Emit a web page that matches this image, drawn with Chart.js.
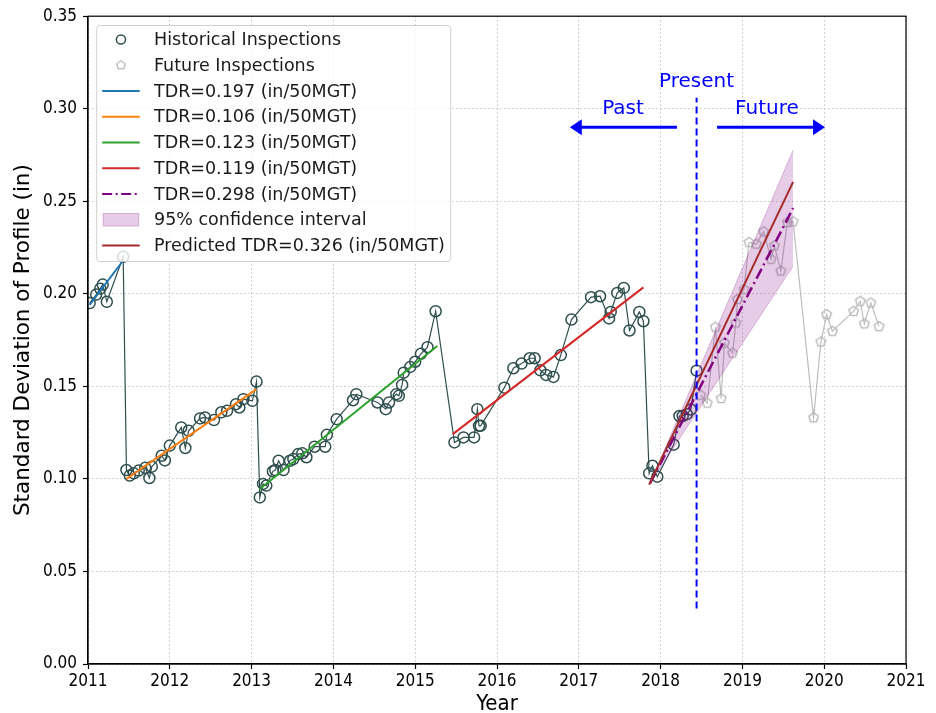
<!DOCTYPE html>
<html>
<head>
<meta charset="utf-8">
<script src="https://cdn.jsdelivr.net/npm/chart.js@4.4.1/dist/chart.umd.min.js"></script>
<style>
  body { margin: 0; background: #fff; }
  #wrap { width: 936px; height: 713px; }
</style>
</head>
<body>
<div id="wrap"><canvas id="chart" width="936" height="713"></canvas></div>
<script>
// historical inspections (year, std dev of profile in inches)
const histYears = [
  2011.02, 2011.10, 2011.15, 2011.18, 2011.23, 2011.43,
  2011.47, 2011.51, 2011.56, 2011.62, 2011.70, 2011.75, 2011.78, 2011.90, 2011.94,
  2012.00, 2012.14, 2012.19, 2012.23, 2012.37, 2012.43, 2012.54, 2012.63, 2012.70,
  2012.81, 2012.85, 2012.90, 2013.01, 2013.06,
  2013.10, 2013.14, 2013.18, 2013.26, 2013.29, 2013.33, 2013.39, 2013.47, 2013.51,
  2013.57, 2013.62, 2013.67, 2013.77, 2013.90, 2013.92, 2014.04, 2014.24, 2014.28,
  2014.54, 2014.64, 2014.68, 2014.77, 2014.80, 2014.84, 2014.86, 2014.94, 2015.00,
  2015.07, 2015.15, 2015.25,
  2015.48, 2015.59, 2015.72, 2015.76, 2015.78, 2015.80, 2016.09, 2016.20, 2016.30,
  2016.40, 2016.46, 2016.53, 2016.60, 2016.69, 2016.78, 2016.91, 2017.15, 2017.26,
  2017.37, 2017.39, 2017.47, 2017.55, 2017.62, 2017.74, 2017.79,
  2017.86, 2017.90, 2017.96, 2018.16, 2018.23, 2018.27, 2018.32, 2018.37, 2018.44
];
const histValues = [
  0.195, 0.1996, 0.2028, 0.205, 0.1957, 0.220,
  0.1048, 0.1018, 0.103, 0.1045, 0.106, 0.1005, 0.1066, 0.1125, 0.110,
  0.118, 0.1278, 0.1167, 0.126, 0.1327, 0.1332, 0.1318, 0.136, 0.1368,
  0.1404, 0.1386, 0.1431, 0.1422, 0.1526,
  0.090, 0.0973, 0.0964, 0.1041, 0.1048, 0.1098, 0.1048, 0.1098, 0.1107,
  0.1134, 0.1138, 0.1117, 0.1174, 0.1174, 0.1238, 0.1323, 0.1425, 0.1458,
  0.1413, 0.1377, 0.1413, 0.1458, 0.1449, 0.1508, 0.1574, 0.1605, 0.1633,
  0.1676, 0.1712, 0.1906,
  0.1197, 0.1224, 0.1224, 0.1377, 0.1287, 0.1287, 0.1493, 0.1598, 0.1623,
  0.1652, 0.1652, 0.1587, 0.1562, 0.1551, 0.1669, 0.1861, 0.1982, 0.1987,
  0.1867, 0.1902, 0.2005, 0.2032, 0.1802, 0.1902, 0.1852,
  0.103, 0.1071, 0.1012, 0.1185, 0.134, 0.134, 0.135, 0.1375, 0.1585
];

// future inspections
const futYears = [
  2018.49, 2018.57, 2018.67, 2018.74, 2018.78, 2018.88, 2018.92, 2018.94, 2019.02,
  2019.08, 2019.17, 2019.26, 2019.35, 2019.39, 2019.47, 2019.55, 2019.62,
  2019.87, 2019.96, 2020.03, 2020.10, 2020.36, 2020.44, 2020.49, 2020.57, 2020.67
];
const futValues = [
  0.1453, 0.141, 0.182, 0.1435, 0.1734, 0.168, 0.1843, 0.197, 0.2024,
  0.2278, 0.2269, 0.2336, 0.2187, 0.226, 0.2124, 0.2386, 0.239,
  0.1331, 0.1741, 0.1888, 0.1798, 0.1906, 0.196, 0.1838, 0.1951, 0.1824
];

// fitted degradation lines per maintenance cycle
const fitLabels = ['TDR=0.197 (in/50MGT)', 'TDR=0.106 (in/50MGT)', 'TDR=0.123 (in/50MGT)', 'TDR=0.119 (in/50MGT)'];
const fitStartX = [2011.02, 2011.47, 2013.10, 2015.46];
const fitEndX = [2011.43, 2013.06, 2015.27, 2017.79];
const fitStartY = [0.194, 0.100, 0.0946, 0.1242];
const fitEndY = [0.218, 0.1485, 0.1718, 0.2035];

// current-cycle fit, prediction and confidence band
const cycleLabel = 'TDR=0.298 (in/50MGT)';
const cycleX = [2017.87, 2019.62];
const cycleY = [0.0975, 0.2463];
const predLabel = 'Predicted TDR=0.326 (in/50MGT)';
const predX = [2017.86, 2019.62];
const predY = [0.0969, 0.2605];
const ciLabel = '95% confidence interval';
const ciX = [2017.87, 2019.62];
const ciLow = [0.0975, 0.215];
const ciHigh = [0.0975, 0.2776];

// present marker and annotations
const presentX = [2018.44, 2018.44];
const presentY = [0.030, 0.306];
const arrowFrom = [2018.20, 2018.69];
const arrowTo = [2016.89, 2020.01];
const arrowY = 0.290;
const noteText = ['Past', 'Present', 'Future'];
const noteX = [2017.54, 2018.44, 2019.30];
const noteY = [0.2969, 0.3118, 0.2969];

const xTicks = [2011, 2012, 2013, 2014, 2015, 2016, 2017, 2018, 2019, 2020, 2021];
const yTicks = [0, 0.05, 0.10, 0.15, 0.20, 0.25, 0.30, 0.35];

const histColor = '#2f4f4f';
const futColor = '#bdbdbd';
const fitColors = ['#1f77b4', '#ff7f0e', '#2ca02c', '#d62728'];
const cycleColor = '#800080';
const predColor = '#a52a2a';
const tickFont = "'DejaVu Sans Condensed', 'DejaVu Sans', sans-serif";
const textFont = "'DejaVu Sans', sans-serif";

const pts = (xs, ys) => xs.map((x, i) => ({ x: x, y: ys[i] }));

function makePentagon(r, color, lw) {
  const c = document.createElement('canvas');
  const s = Math.ceil(2 * r + lw * 2 + 2);
  c.width = s; c.height = s;
  const g = c.getContext('2d');
  g.beginPath();
  for (let i = 0; i < 5; i++) {
    const a = -Math.PI / 2 + i * 2 * Math.PI / 5;
    const px = s / 2 + r * Math.cos(a), py = s / 2 + r * Math.sin(a);
    if (i === 0) g.moveTo(px, py); else g.lineTo(px, py);
  }
  g.closePath();
  g.strokeStyle = color;
  g.lineWidth = lw;
  g.stroke();
  return c;
}
const pentagon = makePentagon(5, '#b5b5b5', 1.3);

const datasets = [
  {
    label: 'present', data: pts(presentX, presentY), showLine: true,
    borderColor: '#0000ff', borderWidth: 2, borderDash: [7, 4], pointRadius: 0, order: 1
  },
  {
    label: predLabel, data: pts(predX, predY), showLine: true,
    borderColor: predColor, borderWidth: 2, pointRadius: 0, order: 2
  },
  {
    label: cycleLabel, data: pts(cycleX, cycleY), showLine: true,
    borderColor: cycleColor, borderWidth: 2.5, borderDash: [11, 4, 2, 4], pointRadius: 0, order: 3
  },
  {
    label: 'ci low', data: pts(ciX, ciLow), showLine: true,
    borderColor: 'rgba(128,0,128,0.25)', borderWidth: 1, pointRadius: 0, order: 5
  },
  {
    label: ciLabel, data: pts(ciX, ciHigh), showLine: true, fill: '-1',
    backgroundColor: 'rgba(128,0,128,0.2)',
    borderColor: 'rgba(128,0,128,0.25)', borderWidth: 1, pointRadius: 0, order: 4
  }
];
fitLabels.forEach((lab, i) => {
  datasets.push({
    label: lab, data: [{ x: fitStartX[i], y: fitStartY[i] }, { x: fitEndX[i], y: fitEndY[i] }],
    showLine: true, borderColor: fitColors[i], borderWidth: 2, pointRadius: 0, order: 6
  });
});
datasets.push({
  label: 'Future Inspections', data: pts(futYears, futValues), showLine: true,
  borderColor: futColor, borderWidth: 1.2, pointStyle: pentagon, pointRadius: 5, order: 7
});
datasets.push({
  label: 'Historical Inspections', data: pts(histYears, histValues), showLine: true,
  borderColor: histColor, borderWidth: 1.2, pointStyle: 'circle', pointRadius: 5.5,
  pointBorderColor: histColor, pointBackgroundColor: 'rgba(0,0,0,0)', pointBorderWidth: 1.5, order: 8
});

const legendRows = [
  { label: 'Historical Inspections', kind: 'circle', color: histColor },
  { label: 'Future Inspections', kind: 'pentagon', color: futColor },
  { label: fitLabels[0], kind: 'line', color: fitColors[0] },
  { label: fitLabels[1], kind: 'line', color: fitColors[1] },
  { label: fitLabels[2], kind: 'line', color: fitColors[2] },
  { label: fitLabels[3], kind: 'line', color: fitColors[3] },
  { label: cycleLabel, kind: 'dashdot', color: cycleColor },
  { label: ciLabel, kind: 'patch', color: 'rgba(128,0,128,0.2)' },
  { label: predLabel, kind: 'line', color: predColor }
];

const overlay = {
  id: 'overlay',
  afterDatasetsDraw(chart) {
    const { ctx, scales: { x, y } } = chart;
    ctx.save();
    ctx.strokeStyle = '#0000ff';
    ctx.fillStyle = '#0000ff';
    ctx.lineWidth = 3;
    arrowFrom.forEach((x0, i) => {
      const p0 = x.getPixelForValue(x0), p1 = x.getPixelForValue(arrowTo[i]);
      const py = y.getPixelForValue(arrowY);
      const dir = Math.sign(p1 - p0);
      ctx.beginPath();
      ctx.moveTo(p0, py);
      ctx.lineTo(p1 - dir * 10, py);
      ctx.stroke();
      ctx.beginPath();
      ctx.moveTo(p1, py);
      ctx.lineTo(p1 - dir * 12, py - 8);
      ctx.lineTo(p1 - dir * 12, py + 8);
      ctx.closePath();
      ctx.fill();
    });
    ctx.font = '20px ' + textFont;
    ctx.textAlign = 'center';
    ctx.textBaseline = 'alphabetic';
    noteText.forEach((t, i) => {
      ctx.fillText(t, x.getPixelForValue(noteX[i]), y.getPixelForValue(noteY[i]));
    });
    ctx.restore();
  },
  afterDraw(chart) {
    const { ctx, chartArea: a } = chart;
    ctx.save();
    ctx.strokeStyle = '#000';
    ctx.lineWidth = 1.2;
    ctx.strokeRect(a.left, a.top, a.right - a.left, a.bottom - a.top);

    // legend box
    const lx = a.left + 8.7, ly = a.top + 9.3, lw = 354, lh = 236;
    ctx.beginPath();
    ctx.roundRect(lx, ly, lw, lh, 3);
    ctx.fillStyle = 'rgba(255,255,255,0.8)';
    ctx.fill();
    ctx.strokeStyle = 'rgba(204,204,204,0.9)';
    ctx.lineWidth = 1;
    ctx.stroke();

    ctx.font = '17.5px ' + textFont;
    ctx.textAlign = 'left';
    ctx.textBaseline = 'middle';
    legendRows.forEach((row, i) => {
      const cy = ly + 14 + i * 25.75;
      const x0 = lx + 5.5, x1 = lx + 43, xm = (x0 + x1) / 2;
      ctx.save();
      if (row.kind === 'circle') {
        ctx.beginPath();
        ctx.arc(xm, cy, 4.6, 0, Math.PI * 2);
        ctx.strokeStyle = row.color;
        ctx.lineWidth = 1.5;
        ctx.stroke();
      } else if (row.kind === 'pentagon') {
        const p = makePentagon(4.5, '#b5b5b5', 1.2);
        ctx.drawImage(p, xm - p.width / 2, cy - p.height / 2);
      } else if (row.kind === 'patch') {
        ctx.fillStyle = row.color;
        ctx.fillRect(x0 + 1, cy - 6.3, x1 - x0 - 2, 12.6);
        ctx.strokeStyle = 'rgba(128,0,128,0.25)';
        ctx.lineWidth = 1;
        ctx.strokeRect(x0 + 1, cy - 6.3, x1 - x0 - 2, 12.6);
      } else {
        ctx.strokeStyle = row.color;
        ctx.lineWidth = 2;
        if (row.kind === 'dashdot') ctx.setLineDash([10, 3.5, 2, 3.5]);
        ctx.beginPath();
        ctx.moveTo(x0, cy);
        ctx.lineTo(x1, cy);
        ctx.stroke();
      }
      ctx.restore();
      ctx.fillStyle = '#1a1a1a';
      ctx.fillText(row.label, lx + 57.3, cy + 1);
    });
    ctx.restore();
  }
};

new Chart(document.getElementById('chart'), {
  type: 'scatter',
  data: { datasets: datasets },
  options: {
    responsive: false,
    animation: false,
    layout: { padding: { top: 14, right: 30, left: 0, bottom: 0 } },
    plugins: { legend: { display: false }, tooltip: { enabled: false } },
    scales: {
      x: {
        type: 'linear', min: 2011, max: 2021,
        afterFit: (s) => { s.height = 49; },
        afterBuildTicks: (s) => { s.ticks = xTicks.map(v => ({ value: v })); },
        ticks: {
          color: '#000', padding: 2, maxRotation: 0, autoSkip: false,
          font: { family: tickFont, size: 17 },
          callback: (v) => String(v)
        },
        grid: { color: '#c4c4c4', lineWidth: 1, tickLength: 5, tickColor: '#000', tickWidth: 1.2, tickBorderDash: [] },
        border: { display: true, color: '#000', width: 1.2, dash: [1.5, 2.5] },
        title: { display: true, text: 'Year', color: '#000', font: { family: tickFont, size: 22, lineHeight: 0.75 }, padding: { top: 0, bottom: 0 } }
      },
      y: {
        type: 'linear', min: 0, max: 0.35,
        afterFit: (s) => { s.width = 88; },
        afterBuildTicks: (s) => { s.ticks = yTicks.map(v => ({ value: v })); },
        ticks: {
          color: '#000', padding: 6, autoSkip: false,
          font: { family: tickFont, size: 17 },
          callback: (v) => Number(v).toFixed(2)
        },
        grid: { color: '#c4c4c4', lineWidth: 1, tickLength: 5, tickColor: '#000', tickWidth: 1.2, tickBorderDash: [] },
        border: { display: true, color: '#000', width: 1.2, dash: [1.5, 2.5] },
        title: { display: true, text: 'Standard Deviation of Profile (in)', color: '#000', font: { family: textFont, size: 21.5, lineHeight: 1.2 }, padding: { top: 11, bottom: 0 } }
      }
    }
  },
  plugins: [overlay]
});
</script>
</body>
</html>
